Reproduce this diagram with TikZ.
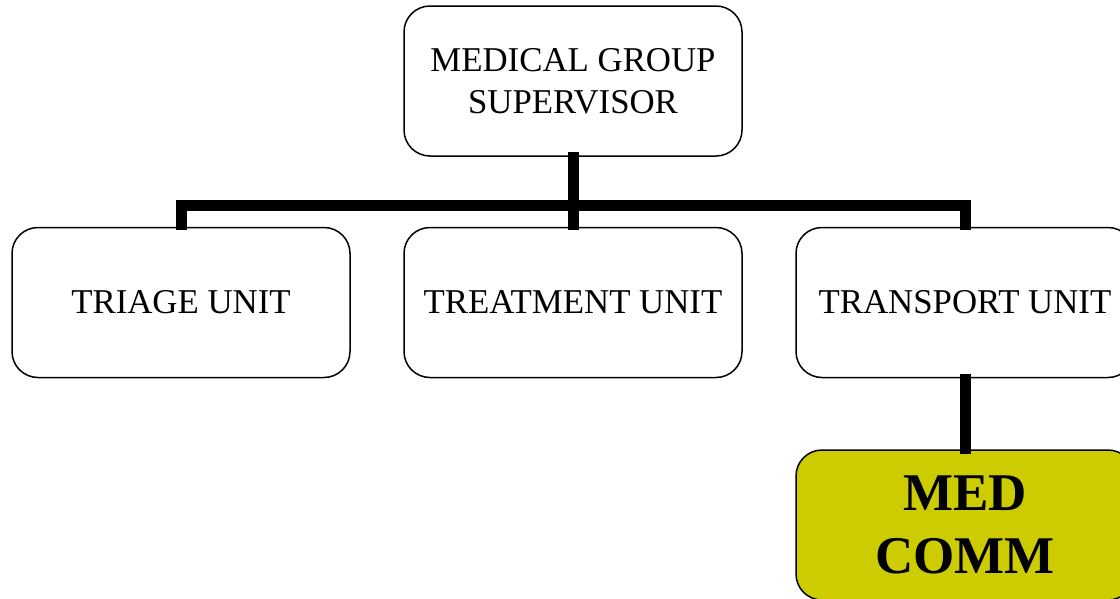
\documentclass[tikz,border=0pt]{standalone}
\usepackage{fontspec}
\setmainfont{Liberation Serif}
\begin{document}
\begin{tikzpicture}[x=1pt,y=-1pt,
  unitbox/.style={draw=black, line width=1.5pt, rounded corners=26pt, fill=white,
    minimum width=338pt, minimum height=150pt, align=center, inner sep=0pt,
    font=\fontsize{34.8}{42}\selectfont},
  commbox/.style={unitbox, fill=medcolor, font=\fontsize{53}{63}\bfseries\selectfont},
  conn/.style={line width=11pt, line cap=rect, line join=miter}]
\definecolor{medcolor}{HTML}{CCCC00}
\useasboundingbox (0,0) rectangle (1120,598);
\node[unitbox] (sup) at (573,81) {MEDICAL GROUP\\SUPERVISOR};
\node[unitbox] (triage) at (181,302.5) {TRIAGE UNIT};
\node[unitbox] (treat) at (573,302.5) {TREATMENT UNIT};
\node[unitbox] (trans) at (965,302.5) {TRANSPORT UNIT};
\node[commbox] (comm) at (965,525) {MED\\COMM};
\coordinate (bus) at (573,205.5);
\draw[conn] ([yshift=-1pt]sup.south) -- (bus);
\draw[conn] ([yshift=2pt]triage.north) |- (bus) -| ([yshift=2pt]trans.north);
\draw[conn] (bus) -- ([yshift=2pt]treat.north);
\draw[conn] ([yshift=-1pt]trans.south) -- ([yshift=1pt]comm.north);
\end{tikzpicture}
\end{document}
